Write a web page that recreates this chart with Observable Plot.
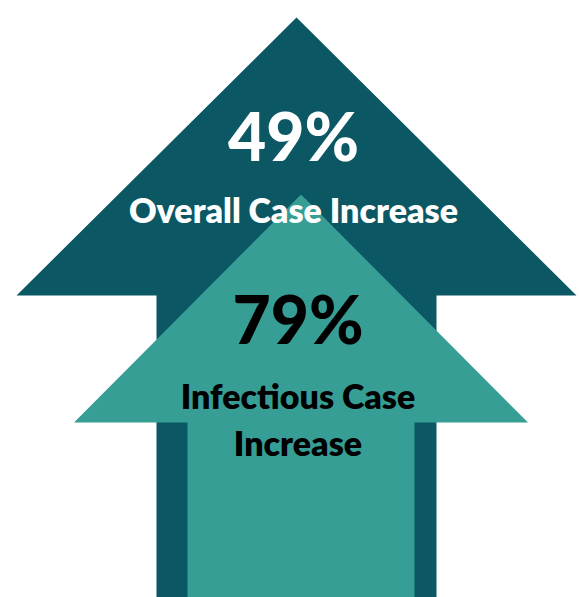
<!DOCTYPE html>
<html>
<head>
<meta charset="utf-8">
<script src="https://cdn.jsdelivr.net/npm/d3@7"></script>
<script src="https://cdn.jsdelivr.net/npm/@observablehq/plot@0.6"></script>
<style>
  html, body { margin: 0; padding: 0; background: #fff; }
  #chart svg { display: block; }
</style>
</head>
<body>
<div id="chart"></div>
<script>
// ---- data ----
const series = ["Overall", "Infectious"];
const values = [49, 79];
const labels = ["Overall Case Increase", "Infectious Case\nIncrease"];
const colors = ["#0b5864", "#379e96"];
const textColors = ["#ffffff", "#000000"];

// ---- layout (arrow geometry in chart units) ----
const W = 579, H = 597;
const arrowGeom = [
  {cx: 296, tip: 17, base: 295, head: 280, shaft: 140, bottom: 597},
  {cx: 300.5, tip: 194, base: 422, head: 227, shaft: 113.5, bottom: 597}
];
const valueY = [160, 343];
const labelY = [222, 455];

const polys = [];
series.forEach((s, i) => {
  const g = arrowGeom[i];
  const pts = [
    [g.cx, g.tip],
    [g.cx + g.head, g.base],
    [g.cx + g.shaft, g.base],
    [g.cx + g.shaft, g.bottom],
    [g.cx - g.shaft, g.bottom],
    [g.cx - g.shaft, g.base],
    [g.cx - g.head, g.base]
  ];
  pts.forEach(([x, y]) => polys.push({series: s, x, y, color: colors[i]}));
});

const texts = series.map((s, i) => ({
  series: s,
  x: arrowGeom[i].cx - 3,
  vy: valueY[i],
  ly: labelY[i],
  value: values[i] + "%",
  label: labels[i],
  color: textColors[i]
}));

const font = "Lato, 'Open Sans', sans-serif";

const chart = Plot.plot({
  width: W,
  height: H,
  margin: 0,
  x: {domain: [0, W], range: [0, W], axis: null},
  y: {domain: [0, H], range: [0, H], axis: null},
  style: {background: "#fff", fontFamily: font},
  marks: [
    Plot.line(polys, {x: "x", y: "y", z: "series", fill: "color", stroke: "none", curve: "linear-closed"}),
    Plot.text(texts, {x: "x", y: "vy", text: "value", fill: "color", fontSize: 66, fontWeight: 900, lineAnchor: "bottom", textAnchor: "middle", fontFamily: font}),
    Plot.text(texts, {x: "x", y: "ly", text: "label", fill: "color", fontSize: 34, fontWeight: 800, lineAnchor: "bottom", textAnchor: "middle", lineHeight: 47/34, fontFamily: font})
  ]
});
document.getElementById("chart").appendChild(chart);
</script>
</body>
</html>
